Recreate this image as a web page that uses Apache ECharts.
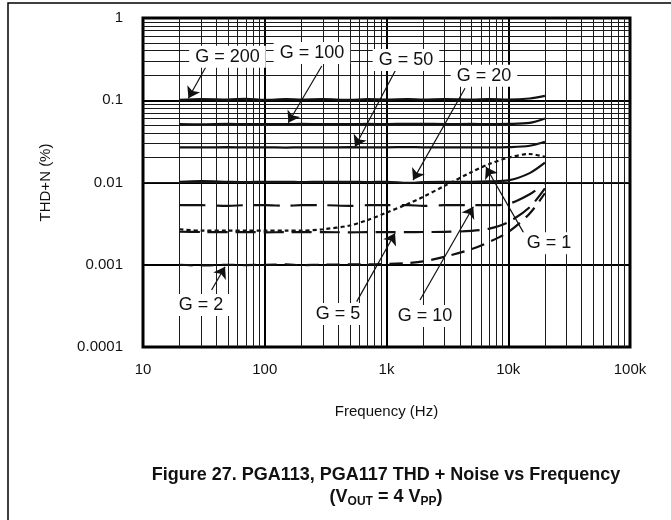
<!DOCTYPE html>
<html><head><meta charset="utf-8">
<script src="https://cdn.jsdelivr.net/npm/echarts@6/dist/echarts.min.js"></script>
<style>html,body{margin:0;padding:0;background:#fff}#c{width:671px;height:520px}</style>
</head><body><div id="c"></div>
<script>
// ---- data ----
const freqs = [20,30,50,70,100,150,200,300,500,700,1000,1500,2000,3000,5000,7000,10000,15000,20000];
const g200 = [0.101,0.103,0.102,0.104,0.101,0.103,0.102,0.103,0.101,0.103,0.102,0.103,0.102,0.103,0.102,0.103,0.102,0.105,0.113];
const g100 = [0.0512,0.0510,0.0515,0.0513,0.0514,0.0513,0.0515,0.0514,0.0513,0.0515,0.0514,0.0518,0.0516,0.0514,0.0515,0.0514,0.0516,0.053,0.060];
const g50  = [0.0268,0.0267,0.0269,0.0267,0.0268,0.0266,0.0268,0.0267,0.0269,0.0267,0.0268,0.0269,0.0268,0.0267,0.0268,0.0267,0.0269,0.0280,0.0313];
const g20  = [0.0102,0.0104,0.0102,0.0101,0.0102,0.0102,0.0101,0.0102,0.0102,0.0101,0.0102,0.0099,0.0101,0.0102,0.0102,0.0103,0.0106,0.0130,0.0174];
const g10  = [0.0053,0.0053,0.0052,0.0053,0.0053,0.0052,0.0053,0.0053,0.0052,0.0053,0.0053,0.0053,0.0052,0.0053,0.0053,0.0053,0.0055,0.0072,0.0098];
const g5   = [0.00252,0.00250,0.00249,0.00250,0.00248,0.00249,0.00250,0.00249,0.00248,0.00249,0.00250,0.00249,0.00250,0.00251,0.00258,0.00275,0.0033,0.0050,0.0085];
const g2   = [0.00100,0.00098,0.00100,0.00099,0.00100,0.00101,0.00099,0.00100,0.00101,0.00101,0.00102,0.00105,0.00110,0.00125,0.00155,0.0019,0.0025,0.0042,0.0074];
const g1   = [0.0027,0.0026,0.0026,0.0026,0.0026,0.0026,0.0026,0.0027,0.0030,0.0035,0.0043,0.0055,0.0067,0.0091,0.0134,0.0168,0.0200,0.0222,0.0205];
const seriesNames = ['G = 200','G = 100','G = 50','G = 20','G = 10','G = 5','G = 2','G = 1'];
const xTickLabels = ['10','100','1k','10k','100k'];
const yTickLabels = ['0.0001','0.001','0.01','0.1','1'];

// ---- annotation placement (data coordinates) ----
const labelAt = {
  'G = 200':[49.4,0.338], 'G = 100':[244,0.375], 'G = 50':[1445,0.309], 'G = 20':[6320,0.199],
  'G = 1':[21600,0.00182], 'G = 2':[29.9,0.000324], 'G = 5':[400,0.000252], 'G = 10':[2070,0.000238]
};
const arrowFrom = {
  'G = 200':[32.9,0.256], 'G = 100':[294,0.261], 'G = 50':[1213,0.2466], 'G = 20':[4415,0.1397],
  'G = 1':[13460,0.00241], 'G = 2':[36.6,0.000493], 'G = 5':[569,0.000356], 'G = 10':[1884,0.000373]
};
const arrowTo = {
  'G = 200':[23.6,0.1056], 'G = 100':[156,0.0533], 'G = 50':[551,0.0272], 'G = 20':[1652,0.0107],
  'G = 1':[6560,0.0154], 'G = 2':[47.2,0.000947], 'G = 5':[1175,0.00241], 'G = 10':[5165,0.00508]
};

const values = {'G = 200':g200,'G = 100':g100,'G = 50':g50,'G = 20':g20,'G = 10':g10,'G = 5':g5,'G = 2':g2,'G = 1':g1};
const dashes = {'G = 200':'solid','G = 100':'solid','G = 50':'solid','G = 20':'solid',
  'G = 10':[26,11],'G = 5':[20,8],'G = 2':[13,8],'G = 1':[4,3]};

const FONT = 'Liberation Sans, Arial, Helvetica, sans-serif';

// minor grid positions (2..9 within each decade)
const xMinor = [], yMinor = [];
for (let d = 10; d < 100000; d *= 10) for (let m = 2; m <= 9; m++) xMinor.push(d * m);
for (let d = 0.0001; d < 1; d *= 10) for (let m = 2; m <= 9; m++) yMinor.push(+(d * m).toPrecision(3));

const curveSeries = seriesNames.map(n => ({
  name: n, type: 'line', z: 3, showSymbol: false, smooth: 0.3,
  data: freqs.map((f, i) => [f, values[n][i]]),
  lineStyle: { color: '#111', width: 2.2, type: dashes[n] },
  silent: true
}));

const chart = echarts.init(document.getElementById('c'), null, { renderer: 'canvas' });
chart.setOption({
  animation: false,
  backgroundColor: '#fff',
  grid: { left: 143, right: 41, top: 18, bottom: 173, containLabel: false, outerBoundsMode: 'none',
          show: true, borderColor: '#000', borderWidth: 3, backgroundColor: 'transparent' },
  xAxis: {
    type: 'log', logBase: 10, min: 10, max: 100000, splitNumber: 4,
    name: 'Frequency (Hz)', nameLocation: 'middle', nameGap: 57,
    nameTextStyle: { fontFamily: FONT, fontSize: 15, color: '#111' },
    axisLine: { show: false }, axisTick: { show: false },
    axisLabel: { margin: 15, fontFamily: FONT, fontSize: 15, color: '#111',
      formatter: v => xTickLabels[Math.round(Math.log10(v)) - 1] },
    splitLine: { show: true, lineStyle: { color: '#000', width: 2 } }
  },
  yAxis: {
    type: 'log', logBase: 10, min: 0.0001, max: 1, splitNumber: 4,
    name: 'THD+N (%)', nameLocation: 'middle', nameGap: 90, nameRotate: 90,
    nameTextStyle: { fontFamily: FONT, fontSize: 15, color: '#111' },
    axisLine: { show: false }, axisTick: { show: false },
    axisLabel: { margin: 20, fontFamily: FONT, fontSize: 15, color: '#111',
      formatter: v => yTickLabels[Math.round(Math.log10(v)) + 4] },
    splitLine: { show: true, lineStyle: { color: '#000', width: 2 } }
  },
  series: [
    { type: 'line', data: [], z: 1, silent: true,
      markLine: { silent: true, symbol: ['none','none'], label: { show: false }, animation: false,
        lineStyle: { color: '#1a1a1a', width: 1, type: 'solid' },
        emphasis: { disabled: true },
        data: xMinor.map(v => ({ xAxis: v })).concat(yMinor.map(v => ({ yAxis: v }))) } },
    ...curveSeries,
    { type: 'line', data: [], z: 6, silent: true,
      markLine: { silent: true, symbol: ['none','arrow'], symbolSize: 11, label: { show: false }, animation: false,
        lineStyle: { color: '#111', width: 1.2, type: 'solid' },
        itemStyle: { color: '#111' },
        emphasis: { disabled: true },
        data: seriesNames.map(n => [{ coord: arrowFrom[n] }, { coord: arrowTo[n] }]) },
      markPoint: { silent: true, symbol: 'rect', symbolSize: 0, animation: false,
        label: { show: true, position: 'inside', formatter: p => p.name, fontFamily: FONT, fontSize: 18,
                 color: '#111', backgroundColor: '#fff', padding: [2, 6] },
        data: seriesNames.map(n => ({ name: n, coord: labelAt[n] })) } }
  ],
  graphic: [
    { type: 'polyline', silent: true, shape: { points: [[8, 520], [8, 3], [671, 3]] },
      style: { stroke: '#000', lineWidth: 1.5, fill: null } },
    { type: 'text', silent: true, x: 386, y: 475,
      style: { text: 'Figure 27. PGA113, PGA117 THD + Noise vs Frequency', fontFamily: FONT, fontSize: 18,
               fontWeight: 'bold', fill: '#111', align: 'center', verticalAlign: 'middle' } },
    { type: 'text', silent: true, x: 386, y: 497,
      style: { text: '(V{s|OUT} = 4 V{s|PP})', fontFamily: FONT, fontSize: 18, fontWeight: 'bold', fill: '#111',
               align: 'center', verticalAlign: 'middle',
               rich: { s: { fontFamily: FONT, fontSize: 12, fontWeight: 'bold', fill: '#111', padding: [9, 0, 0, 0] } } } }
  ]
});
</script></body></html>
